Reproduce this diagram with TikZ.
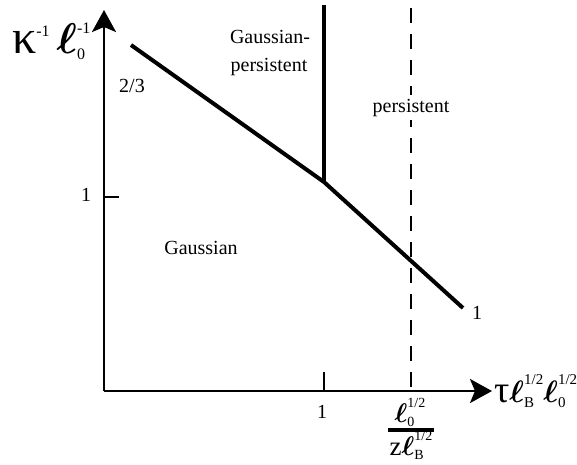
\documentclass[tikz,border=0pt]{standalone}
\usepackage{fix-cm}
\usepackage{amsmath}
\usepackage{fontspec}
\setmainfont{Liberation Serif}
\usetikzlibrary{arrows.meta}
\newcommand\ellsym{\ensuremath{\boldsymbol{\ell}}}
\newcommand\scr[2]{\mbox{\fontsize{#1}{#1}\selectfont #2}}
\newcommand\ssup[5]{\rlap{\raisebox{-#5}{\scr{#1}{#3}}}\raisebox{#4}{\scr{#1}{#2}}}
\begin{document}
\begin{tikzpicture}[x=1pt,y=-1pt,
  axis/.style={line width=2.6pt, -{Stealth[length=22pt,width=24pt,inset=5pt]}},
  thickline/.style={line width=4pt},
  tickline/.style={line width=2.4pt},
  guide/.style={line width=1.1pt, dash pattern=on 15pt off 11pt},
  lbl/.style={font=\fontsize{20}{24}\selectfont, inner sep=0pt, anchor=base},
  math/.style={inner sep=0pt, anchor=base},
]
\useasboundingbox (0,0) rectangle (577,464);
% axes
\coordinate (O) at (104,391);
\coordinate (ytip) at (104,10);
\coordinate (xtip) at (492,391);
\draw[axis] (O) -- (ytip);
\draw[axis] (O) -- (xtip);
% ticks
\coordinate (tx) at (324,391);
\coordinate (txtop) at (324,372);
\coordinate (ty) at (104,197);
\coordinate (tyend) at (119,197);
\draw[tickline] (tx) -- (txtop);
\draw[tickline] (ty) -- (tyend);
% dashed guide
\coordinate (dtop) at (411,8);
\coordinate (dbot) at (411,391);
\draw[guide] (dtop) -- (dbot);
% phase boundaries
\coordinate (a) at (131,45);
\coordinate (k) at (324,182);
\coordinate (e) at (463,308);
\coordinate (vtop) at (324,5);
\draw[thickline] (a) -- (k) -- (e);
\draw[thickline] (k) -- (vtop);
% labels
\node[lbl] (l23) at (132,92) {2/3};
\node[lbl] (ly1) at (86,201) {1};
\node[lbl] (lx1) at (322,418) {1};
\node[lbl] (lend) at (477,319) {1};
\node[lbl] (gp1) at (270,43) {Gaussian-};
\node[lbl] (gp2) at (269,71) {persistent};
\node[lbl, fill=white, inner ysep=4pt] (pers) at (411,112) {persistent};
\node[lbl] (gauss) at (201,254) {Gaussian};
\node[math, anchor=base west] (ylab) at (12,53)
  {\fontsize{48}{50}\selectfont κ\ssup{16}{-1}{}{17pt}{0pt}\hspace{7pt}{\fontsize{43}{45}\selectfont\ellsym}\ssup{16}{-1}{0}{20pt}{6pt}};
\node[math, anchor=base west] (xlab) at (494,402)
  {{\fontsize{38}{40}\selectfont τ}{\fontsize{31}{33}\selectfont\ellsym}\ssup{15}{1/2}{B}{18pt}{5pt}{\fontsize{31}{33}\selectfont\ellsym}\ssup{15}{1/2}{0}{18pt}{5pt}};
% fraction
\node[math] (num) at (410,422)
  {{\fontsize{27}{29}\selectfont\ellsym}\ssup{14}{1/2}{0}{15pt}{4pt}};
\node[inner sep=0pt] (bar) at (411,430) {\rule{46pt}{3.5pt}};
\node[math] (den) at (411,455)
  {\fontsize{27}{29}\selectfont z\ellsym\ssup{14}{1/2}{B}{15pt}{4pt}};
\end{tikzpicture}
\end{document}
